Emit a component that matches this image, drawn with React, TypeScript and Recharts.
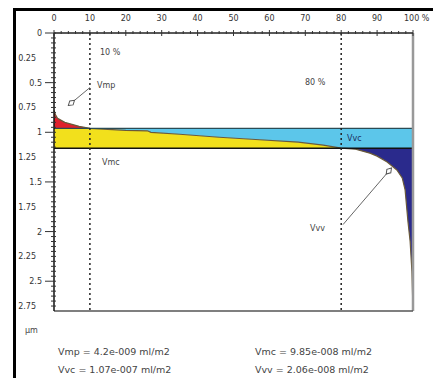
import { ComposedChart, Area, Line, XAxis, YAxis, ReferenceLine, ReferenceDot } from "recharts"

// bearing ratio curve (Abbott curve)
const bearingPct = [0, 0.5, 1, 2, 3, 5, 7, 10, 15, 20, 26, 27, 35, 46, 55, 68, 75, 80, 84, 88, 90, 92.8, 95.5, 97, 97.8, 98.6, 99.2, 99.7, 100]
const heightUm = [0.78, 0.83, 0.86, 0.88, 0.9, 0.92, 0.94, 0.96, 0.97, 0.98, 0.985, 1.0, 1.02, 1.05, 1.07, 1.1, 1.13, 1.16, 1.17, 1.21, 1.24, 1.3, 1.38, 1.46, 1.58, 1.9, 2.1, 2.4, 2.8]

// core limits
const coreTop = 0.96
const coreBottom = 1.16
const mr1 = 10
const mr2 = 80

const xMajorTicks = [0, 10, 20, 30, 40, 50, 60, 70, 80, 90, 100]
const yMajorTicks = [0, 0.25, 0.5, 0.75, 1, 1.25, 1.5, 1.75, 2, 2.25, 2.5, 2.75]
const xTicks = Array.from({ length: 51 }, (_, i) => i * 2)
const yTicks = Array.from({ length: 56 }, (_, i) => Math.round(i * 5) / 100)

const resultNames = ["Vmp", "Vvc", "Vmc", "Vvv"]
const resultValues = ["4.2e-009", "1.07e-007", "9.85e-008", "2.06e-008"]
const resultUnit = "ml/m2"

const font = "'DejaVu Sans', sans-serif"

const clamp = (v: number, lo: number, hi: number) => Math.min(hi, Math.max(lo, v))

const rows = bearingPct.map((x, i) => {
  const h = heightUm[i]
  const core = clamp(h, coreTop, coreBottom)
  return {
    x,
    h,
    vmp: [Math.min(h, coreTop), coreTop],
    vmc: [core, coreBottom],
    vvc: [coreTop, core],
    vvv: [coreBottom, Math.max(h, coreBottom)],
  }
})

const TopTick = (props: any) => {
  const { x, y, payload } = props
  const v = payload.value
  const major = v % 10 === 0
  return (
    <g>
      <line x1={x} x2={x} y1={y - (major ? 3 : 2)} y2={y + (major ? 3 : 1)} stroke="#333" strokeWidth={1} />
      {major && (
        <text x={v === 100 ? x - 9 : x} y={y - 12} textAnchor={v === 100 ? "start" : "middle"} fontSize={8} fontFamily={font} fill="#333">
          {v === 100 ? "100 %" : v}
        </text>
      )}
    </g>
  )
}

const LeftTick = (props: any) => {
  const { x, y, payload } = props
  const v = payload.value
  const q = Math.round(v * 100)
  const half = q % 50 === 0
  const quarter = q % 25 === 0
  return (
    <g>
      <line x1={x - (half ? 9 : 3)} x2={x + 2} y1={y} y2={y} stroke="#333" strokeWidth={1} />
      {quarter && (
        <text x={x - (half ? 12 : 18)} y={y + 3} textAnchor="end" fontSize={8} fontFamily={font} fill="#333">
          {v}
        </text>
      )}
    </g>
  )
}

const textDot = (label: string, color = "#444") => (p: any) => (
  <text x={p.cx} y={p.cy + 3} fontSize={8} fontFamily={font} fill={color}>
    {label}
  </text>
)

const arrowHead = (angle: number) => (p: any) => (
  <polygon
    points="0,0 -4,-2.6 -8,0 -4,2.6"
    transform={`translate(${p.cx},${p.cy}) rotate(${angle})`}
    fill="#fff"
    stroke="#555"
    strokeWidth={1}
  />
)

export default function App() {
  return (
    <div style={{ position: "absolute", left: 0, top: 0, width: 433, height: 378, background: "#fff", overflow: "hidden" }}>
      <div style={{ position: "absolute", left: 13, top: 8, right: -10, bottom: -10, borderLeft: "3px solid #000", borderTop: "3px solid #000" }} />
      <ComposedChart width={433} height={378} data={rows} margin={{ top: 0, right: 20, bottom: 67, left: 0 }}>
        <XAxis
          dataKey="x"
          type="number"
          orientation="top"
          domain={[0, 100]}
          ticks={xTicks}
          interval={0}
          height={33}
          tickSize={0}
          tickMargin={0}
          tick={(p: any) => <TopTick {...p} />}
          axisLine={{ stroke: "#222", strokeWidth: 1.5 }}
          tickLine={false}
        />
        <YAxis
          type="number"
          reversed
          domain={[0, 2.8]}
          allowDataOverflow
          ticks={yTicks}
          interval={0}
          width={54}
          tickSize={0}
          tickMargin={0}
          tick={(p: any) => <LeftTick {...p} />}
          axisLine={{ stroke: "#111", strokeWidth: 1.5 }}
          tickLine={false}
        />
        <Area dataKey="vmc" type="linear" fill="#f2e01c" fillOpacity={1} stroke="none" isAnimationActive={false} />
        <Area dataKey="vvc" type="linear" fill="#5cc6ea" fillOpacity={1} stroke="none" isAnimationActive={false} />
        <Area dataKey="vmp" type="linear" fill="#e0202c" fillOpacity={1} stroke="none" isAnimationActive={false} />
        <Area dataKey="vvv" type="linear" fill="#2a2a8c" fillOpacity={1} stroke="none" isAnimationActive={false} />
        <Line dataKey="h" type="linear" stroke="#6a5a3a" strokeWidth={1.2} dot={false} isAnimationActive={false} />
        <ReferenceLine y={coreTop} stroke="#2b4b55" strokeWidth={1.2} />
        <ReferenceLine y={coreBottom} stroke="#111" strokeWidth={1.5} />
        <ReferenceLine x={mr1} stroke="#222" strokeWidth={1.5} strokeDasharray="2 3" />
        <ReferenceLine x={mr2} stroke="#222" strokeWidth={1.5} strokeDasharray="2 3" />
        <ReferenceLine x={100} stroke="#999" strokeWidth={2.5} />
        <ReferenceLine y={2.8} stroke="#555" strokeWidth={1.5} />
        <ReferenceLine segment={[{ x: 10, y: 0.55 }, { x: 4, y: 0.73 }]} stroke="#666" strokeWidth={1} />
        <ReferenceLine segment={[{ x: 80.5, y: 1.93 }, { x: 94, y: 1.36 }]} stroke="#666" strokeWidth={1} />
        <ReferenceDot x={4} y={0.73} r={0} shape={arrowHead(140)} />
        <ReferenceDot x={94} y={1.36} r={0} shape={arrowHead(-49)} />
        <ReferenceDot x={12.8} y={0.19} r={0} shape={textDot("10 %")} />
        <ReferenceDot x={69.9} y={0.49} r={0} shape={textDot("80 %")} />
        <ReferenceDot x={12} y={0.52} r={0} shape={textDot("Vmp")} />
        <ReferenceDot x={13.4} y={1.3} r={0} shape={textDot("Vmc")} />
        <ReferenceDot x={81.6} y={1.06} r={0} shape={textDot("Vvc", "#1c2f60")} />
        <ReferenceDot x={71.3} y={1.96} r={0} shape={textDot("Vvv")} />
      </ComposedChart>
      <div style={{ position: "absolute", left: 25, top: 326, fontFamily: font, fontSize: 8, color: "#444" }}>µm</div>
      {resultNames.map((name, i) => (
        <div
          key={name}
          style={{
            position: "absolute",
            left: i < 2 ? 58 : 255,
            top: 346 + (i % 2) * 18,
            fontFamily: font,
            fontSize: 9.5,
            color: "#444",
            whiteSpace: "nowrap",
          }}
        >
          {name} = {resultValues[i]} {resultUnit}
        </div>
      ))}
    </div>
  )
}
